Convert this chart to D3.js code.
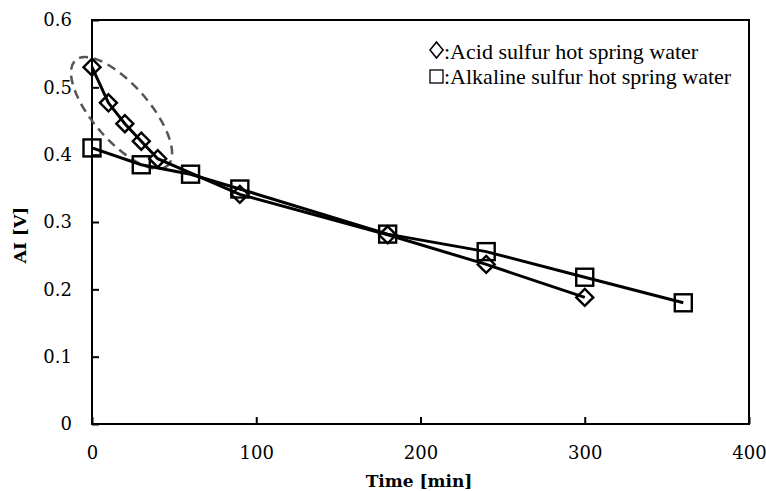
<!DOCTYPE html>
<meta charset="utf-8">
<style>
    body { margin: 0; background: #fff; }
    text { font-family: "DejaVu Serif", "Liberation Serif", serif; fill: #000; }
    .tick text { font-size: 18px; }
    .axis-title { font-size: 17px; font-weight: bold; }
</style>
<svg width="766" height="491"></svg>
<script src="https://d3js.org/d3.v7.min.js"></script>
<script>
    // data
    var acidTime = [0, 10, 20, 30, 40, 90, 180, 240, 300];
    var acidAI = [0.530, 0.477, 0.446, 0.420, 0.394, 0.341, 0.281, 0.237, 0.188];
    var alkTime = [0, 30, 60, 90, 180, 240, 300, 360];
    var alkAI = [0.410, 0.385, 0.371, 0.349, 0.282, 0.256, 0.218, 0.180];
    var xTicks = [0, 100, 200, 300, 400];
    var yTicks = [0, 0.1, 0.2, 0.3, 0.4, 0.5, 0.6];
    var legendLabels = [":Acid sulfur hot spring water", ":Alkaline sulfur hot spring water"];

    var svg = d3.select("svg");
    var plotL = 92, plotR = 749, plotT = 20, plotB = 424;

    var x = d3.scaleLinear().domain([0, 400]).range([plotL, plotR]);
    var y = d3.scaleLinear().domain([0, 0.6]).range([plotB, plotT]);

    // frame
    svg.append("rect")
        .attr("x", plotL).attr("y", plotT)
        .attr("width", plotR - plotL).attr("height", plotB - plotT)
        .attr("fill", "none").attr("stroke", "#000").attr("stroke-width", 2);

    var xAxis = svg.append("g")
        .attr("transform", "translate(0," + plotB + ")")
        .call(d3.axisBottom(x).tickValues(xTicks).tickSizeInner(-7).tickSizeOuter(0).tickPadding(22).tickFormat(d3.format("d")));
    xAxis.select(".domain").remove();
    xAxis.selectAll("line").attr("stroke-width", 2);

    var yAxis = svg.append("g")
        .attr("transform", "translate(" + plotL + ",0)")
        .call(d3.axisLeft(y).tickValues(yTicks).tickSizeInner(-7).tickSizeOuter(0).tickPadding(20)
            .tickFormat(function(d) { return d === 0 ? "0" : d3.format(".1f")(d); }));
    yAxis.select(".domain").remove();
    yAxis.selectAll("line").attr("stroke-width", 2);

    svg.append("text").attr("class", "axis-title")
        .attr("x", 419).attr("y", 487)
        .attr("text-anchor", "middle").text("Time [min]");
    svg.append("text").attr("class", "axis-title")
        .attr("transform", "translate(26,235) rotate(-90)")
        .attr("text-anchor", "middle").text("AI [V]");

    // dashed ellipse around the early acid points
    svg.append("ellipse")
        .attr("transform", "translate(" + x(18) + "," + y(0.462) + ") rotate(49)")
        .attr("rx", 70).attr("ry", 28)
        .attr("fill", "none").attr("stroke", "#555")
        .attr("stroke-width", 2.5).attr("stroke-dasharray", "9,6");

    var line = d3.line();
    var acid = acidTime.map(function(t, i) { return [x(t), y(acidAI[i])]; });
    var alk = alkTime.map(function(t, i) { return [x(t), y(alkAI[i])]; });

    svg.append("path").attr("d", line(alk))
        .attr("fill", "none").attr("stroke", "#000").attr("stroke-width", 3);
    svg.append("path").attr("d", line(acid))
        .attr("fill", "none").attr("stroke", "#000").attr("stroke-width", 3);

    var sq = 17;
    svg.selectAll(".sq").data(alk).enter().append("rect")
        .attr("x", function(d) { return d[0] - sq / 2; })
        .attr("y", function(d) { return d[1] - sq / 2; })
        .attr("width", sq).attr("height", sq)
        .attr("fill", "none").attr("stroke", "#000").attr("stroke-width", 2.4);

    var dm = 8.5;
    function diamond(cx, cy, rx, ry) {
        return "M" + cx + "," + (cy - ry) + "L" + (cx + rx) + "," + cy + "L" + cx + "," + (cy + ry) + "L" + (cx - rx) + "," + cy + "Z";
    }
    svg.selectAll(".dm").data(acid).enter().append("path")
        .attr("d", function(d) { return diamond(d[0], d[1], dm, dm); })
        .attr("fill", "none").attr("stroke", "#000").attr("stroke-width", 2.4);

    // legend
    var lg = svg.append("g");
    lg.append("path").attr("d", diamond(436.5, 50, 6.5, 8))
        .attr("fill", "none").attr("stroke", "#000").attr("stroke-width", 1.6);
    lg.append("rect").attr("x", 430).attr("y", 70).attr("width", 13).attr("height", 13)
        .attr("fill", "none").attr("stroke", "#000").attr("stroke-width", 1.3);
    lg.selectAll("text").data(legendLabels).enter().append("text")
        .style("font-family", "'Liberation Serif', 'Times New Roman', serif")
        .style("font-size", "22px")
        .attr("x", 444).attr("y", function(d, i) { return 59 + i * 24.5; })
        .text(function(d) { return d; });
</script>
